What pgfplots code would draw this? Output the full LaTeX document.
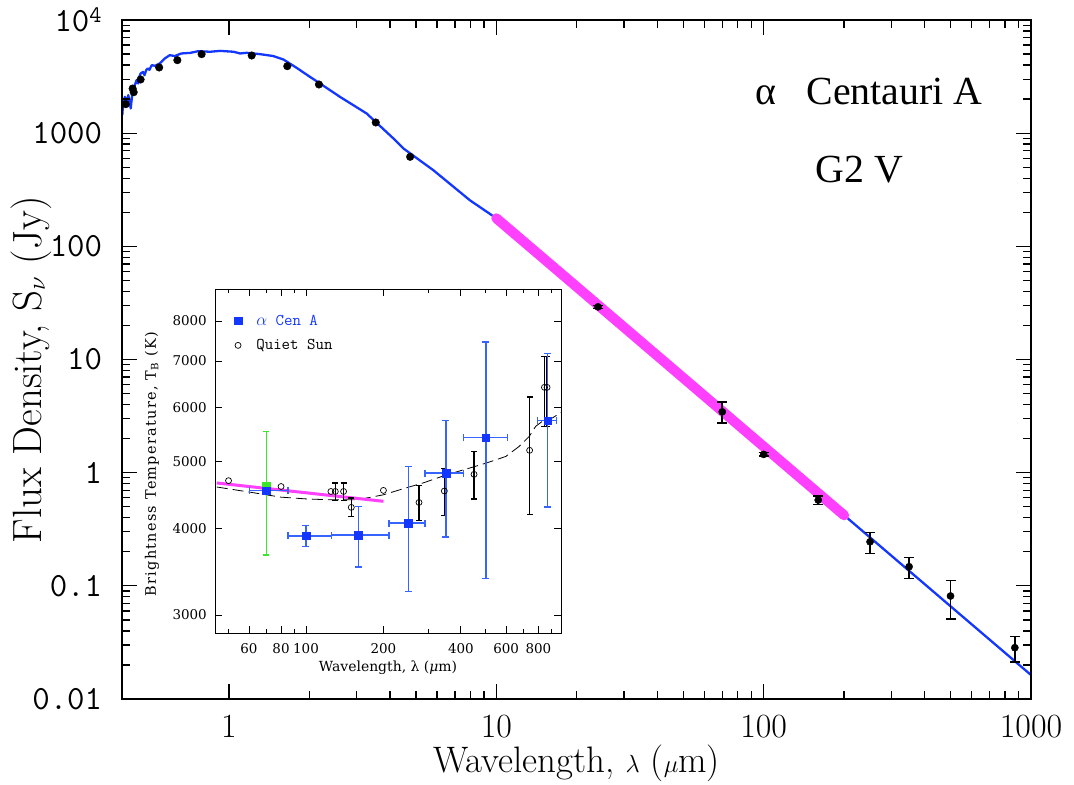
\documentclass[border=0pt]{standalone}
\usepackage{fontspec}
\usepackage{pgfplots}
\usepackage{pgfplotstable}
\pgfplotsset{compat=1.18}
\newfontfamily\timesfont{Liberation Serif}
\newfontfamily\insetfont{DejaVu Serif}
\newfontfamily\insetlabelfont[LetterSpace=9]{DejaVu Serif}
\definecolor{sedblue}{RGB}{20,55,255}
\definecolor{mag}{RGB}{255,64,255}
\definecolor{errblue}{RGB}{55,100,255}
\definecolor{grn}{RGB}{60,230,40}

\pgfplotstableread{
x y
0.399 1443
0.402 1892
0.408 2094
0.414 1829
0.420 2168
0.425 1900
0.429 1652
0.434 2150
0.438 2483
0.444 2633
0.451 2937
0.457 2748
0.462 3150
0.467 3366
0.477 3475
0.483 3251
0.490 3600
0.497 3731
0.504 3630
0.514 3989
0.529 3935
0.551 4130
0.575 4570
0.600 4887
0.627 4800
0.663 5060
0.715 5120
0.768 5300
0.850 5240
0.926 5333
1.04 5240
1.10 5060
1.164 5130
1.306 4990
1.465 4800
1.60 4470
1.79 3780
2.01 3140
2.19 2749
2.60 2094
3.27 1494
4.12 898
4.49 733
5.81 471
7.97 255
10 177
20 43.8
50 6.89
100 1.70
200 0.420
500 0.0660
1000 0.0163
}\sedmodel

\pgfplotstableread{
x y
10 177
20 43.8
50 6.89
100 1.70
200 0.420
}\magline

\pgfplotstableread{
x y
0.411 1803
0.436 2480
0.440 2300
0.467 2980
0.548 3805
0.641 4415
0.790 4990
1.216 4855
1.652 3908
2.17 2692
3.54 1243
4.76 618
}\optical

\pgfplotstableread{
x y eplus eminus
24 29.2 0.9 0.9
70 3.45 0.78 0.69
100 1.45 0.05 0.05
160 0.573 0.052 0.048
250 0.245 0.05 0.051
350 0.1476 0.0304 0.031
500 0.0813 0.0297 0.0304
870 0.0284 0.0071 0.0071
}\irdata

\pgfplotstableread{
x y
45 4597
60.2 4520
79.9 4444
100 4418
124.6 4404
158 4404
200 4479
239 4571
285 4659
351 4786
432 4896
502 4979
598 5090
673 5262
737 5441
782 5630
830 5724
908 5788
980 5895
}\tbmodel

\pgfplotstableread{
x y
45 4659
200 4383
}\tbmag

\pgfplotstableread{
x y
50 4695
80 4604
125 4529
200 4545
}\qsunA

\pgfplotstableread{
x y ym yp
130 4529 132 130
140 4529 132 130
150 4295 132 135
275 4366 258 256
345 4536 359 360
450 4795 377 381
740 5195 996 1011
845 6410 780 700
865 6410 780 700
}\qsunB

\pgfplotstableread{
x y ym yp
70 4606 942 927
}\greenpt

\pgfplotstableread{
x y xm xp
70 4540 9.8 15.2
}\cenAa

\pgfplotstableread{
x y xm xp ym yp
100 3907 14.8 25.7 140 133
160 3916 34.3 50.4 395 391
250 4076 40 40 834 847
350 4816 60 60 926 925
500 5420 90 108 2029 2037
870 5734 75 70 1434 1438
}\cenAb

\begin{document}
\begin{tikzpicture}
\path (0,0) rectangle (1074bp,778bp);
\begin{axis}[
  at={(122.3bp,79bp)},
  scale only axis, width=908.7bp, height=679bp,
  xmode=log, ymode=log,
  xmin=0.399, xmax=1000, ymin=0.01, ymax=10000,
  axis line style={line width=2bp},
  tick style={line width=1.3bp, black},
  major tick length=15bp, minor tick length=8bp,
  xtick={1,10,100,1000},
  ytick={0.01,0.1,1,10,100,1000,10000},
  xticklabels={1,10,100,1000},
  yticklabels={0.01,0.1,1,10,100,1000,{10\textsuperscript{4}}},
  xticklabel style={font=\fontsize{34}{34}\selectfont, inner sep=0pt, yshift=-16bp},
  yticklabel style={font=\fontsize{34}{34}\ttfamily, inner sep=0pt, xshift=-20bp},
  xlabel={Wavelength, $\lambda$ ($\mu$m)},
  ylabel={Flux Density, S$_\nu$ (Jy)},
  xlabel style={font=\fontsize{37}{37}\selectfont, at={(axis description cs:0.5,-0.094)}, anchor=center},
  ylabel style={font=\fontsize{41}{41}\selectfont, at={(axis description cs:-0.1004,0.485)}, anchor=center},
]
\addplot[sedblue, line width=2.3bp, line join=round] table[x=x,y=y] {\sedmodel};
\addplot[mag, line width=10bp, line cap=round] table[x=x,y=y] {\magline};
\addplot[only marks, mark=*, mark size=3.8bp, black] table[x=x,y=y] {\optical};
\addplot[only marks, mark=*, mark size=3.6bp, black,
  error bars/.cd, y dir=both, y explicit,
  error bar style={line width=1.5bp, black},
  error mark options={rotate=90, line width=1.5bp, mark size=5bp, black}]
  table[x=x,y=y,y error plus=eplus,y error minus=eminus] {\irdata};
\node[anchor=base, font=\fontsize{40}{40}\timesfont] at (rel axis cs:0.822,0.875) {α\hspace{30bp}Centauri A};
\node[anchor=base, font=\fontsize{40}{40}\timesfont] at (rel axis cs:0.811,0.761) {G2 V};
\end{axis}
% frame and ticks of the main axes, drawn again on top
\begin{axis}[
  at={(122.3bp,79bp)},
  scale only axis, width=908.7bp, height=679bp,
  xmode=log, ymode=log,
  xmin=0.399, xmax=1000, ymin=0.01, ymax=10000,
  axis line style={line width=2bp},
  tick style={line width=1.3bp, black},
  major tick length=15bp, minor tick length=8bp,
  xtick={1,10,100,1000},
  ytick={0.01,0.1,1,10,100,1000,10000},
  xticklabels={}, yticklabels={},
  xticklabel style={opacity=0}, yticklabel style={opacity=0},
]
\end{axis}

\begin{axis}[
  at={(215bp,145bp)},
  scale only axis, width=346bp, height=344bp,
  xmode=log, ymode=log,
  xmin=44.3, xmax=980, ymin=2825, ymax=8900,
  axis background/.style={fill=white},
  axis line style={line width=0.9bp},
  tick style={line width=0.8bp, black},
  major tick length=7bp, minor tick length=4bp,
  xtick={60,80,100,200,400,600,800},
  minor xtick={50,70,90,300,500,700,900},
  ytick={3000,4000,5000,6000,7000,8000},
  yminorticks=false,
  xticklabels={60,80,100,200,400,600,800},
  yticklabels={3000,4000,5000,6000,7000,8000},
  xticklabel style={font=\fontsize{13.5}{13.5}\insetfont, inner sep=0pt, yshift=-10bp},
  yticklabel style={font=\fontsize{13.5}{13.5}\insetfont, inner sep=0pt, xshift=-8bp},
  xlabel={Wavelength, λ ({\itshape μ}m)},
  ylabel={Brightness Temperature, T\textsubscript{B} (K)},
  xlabel style={font=\fontsize{14}{14}\insetfont, at={(axis description cs:0.5,-0.102)}, anchor=center},
  ylabel style={font=\fontsize{14.5}{14.5}\insetlabelfont, at={(axis description cs:-0.182,0.49)}, anchor=center},
  legend style={at={(axis description cs:0.055,0.93)}, anchor=north west, draw=none, fill=none,
    font=\fontsize{16.5}{17}\ttfamily, row sep=10bp, inner sep=0pt, nodes={inner sep=1.5bp}},
  legend cell align=left,
]
\addlegendimage{only marks, mark=square*, mark size=3.8bp, sedblue}
\addlegendentry{\hspace{13bp}\textcolor{sedblue}{$\alpha$ Cen A}}
\addlegendimage{only marks, mark=o, mark size=3bp, black, line width=0.7bp}
\addlegendentry{\hspace{13bp}Quiet Sun}

\addplot[black, line width=0.8bp, dash pattern=on 11bp off 5bp, forget plot] table[x=x,y=y] {\tbmodel};
\addplot[mag, line width=3bp, forget plot] table[x=x,y=y] {\tbmag};
\addplot[only marks, mark=o, mark size=3bp, black, line width=0.7bp, forget plot] table[x=x,y=y] {\qsunA};
\addplot[only marks, mark=o, mark size=3bp, black, line width=0.7bp, forget plot,
  error bars/.cd, y dir=both, y explicit,
  error bar style={line width=1.2bp, black},
  error mark options={rotate=90, line width=1.2bp, mark size=3bp, black}]
  table[x=x,y=y,y error plus=yp,y error minus=ym] {\qsunB};
\addplot[only marks, mark=square*, mark size=3.8bp, grn, forget plot,
  error bars/.cd, y dir=both, y explicit,
  error bar style={line width=1.2bp, grn},
  error mark options={rotate=90, line width=1.2bp, mark size=3bp, grn}]
  table[x=x,y=y,y error plus=yp,y error minus=ym] {\greenpt};
\addplot[only marks, mark=square*, mark size=3.8bp, sedblue, forget plot,
  error bars/.cd, x dir=both, x explicit,
  error bar style={line width=1.4bp, errblue},
  error mark options={rotate=90, line width=1.4bp, mark size=3.5bp, errblue}]
  table[x=x,y=y,x error plus=xp,x error minus=xm] {\cenAa};
\addplot[only marks, mark=square*, mark size=3.8bp, sedblue, forget plot,
  error bars/.cd, x dir=both, x explicit, y dir=both, y explicit,
  error bar style={line width=1.4bp, errblue},
  error mark options={rotate=90, line width=1.4bp, mark size=3.5bp, errblue}]
  table[x=x,y=y,x error plus=xp,x error minus=xm,y error plus=yp,y error minus=ym] {\cenAb};
\end{axis}
% frame and ticks of the inset, drawn again on top
\begin{axis}[
  at={(215bp,145bp)},
  scale only axis, width=346bp, height=344bp,
  xmode=log, ymode=log,
  xmin=44.3, xmax=980, ymin=2825, ymax=8900,
  axis line style={line width=0.9bp},
  tick style={line width=0.8bp, black},
  major tick length=7bp, minor tick length=4bp,
  xtick={60,80,100,200,400,600,800},
  minor xtick={50,70,90,300,500,700,900},
  ytick={3000,4000,5000,6000,7000,8000},
  yminorticks=false,
  xticklabels={}, yticklabels={},
  xticklabel style={opacity=0}, yticklabel style={opacity=0},
]
\end{axis}
\end{tikzpicture}
\end{document}
